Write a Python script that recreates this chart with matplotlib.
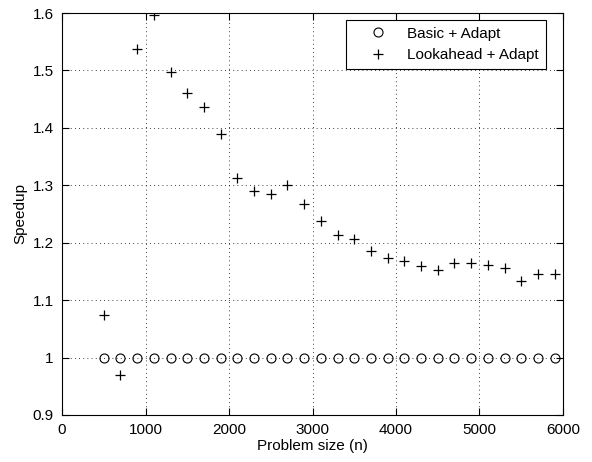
import numpy as np
import matplotlib
matplotlib.use("Agg")
import matplotlib.pyplot as plt

plt.rcParams['font.family'] = ['Liberation Sans', 'DejaVu Sans']

sizes = list(range(500, 6000, 200))
basic_adapt = [1.0] * len(sizes)
lookahead_adapt = [1.075, 0.969, 1.537, 1.597, 1.498, 1.461, 1.437, 1.389,
                   1.313, 1.290, 1.285, 1.301, 1.268, 1.238, 1.214, 1.207,
                   1.186, 1.174, 1.168, 1.159, 1.152, 1.164, 1.164, 1.162,
                   1.156, 1.133, 1.146, 1.146]

fig = plt.figure(figsize=(5.92, 4.62), dpi=100)
ax = fig.add_axes([62 / 592, 1 - 415 / 462, (563 - 62) / 592, (415 - 13) / 462])

ax.plot(sizes, basic_adapt, linestyle='none', marker='o', markersize=6.5,
        markerfacecolor='none', markeredgecolor='black', markeredgewidth=0.8,
        label='Basic + Adapt')
ax.plot(sizes, lookahead_adapt, linestyle='none', marker='+', markersize=7,
        color='black', markeredgewidth=0.9, label='Lookahead + Adapt')

ax.set_xlim(0, 6000)
ax.set_ylim(0.9, 1.6)
ax.set_xticks(np.arange(0, 6001, 1000))
ax.set_yticks(np.arange(0.9, 1.61, 0.1))
ax.set_yticklabels(['0.9', '1', '1.1', '1.2', '1.3', '1.4', '1.5', '1.6'])
ax.grid(True, linestyle=(0, (1, 4)), color='black', linewidth=0.6)
ax.tick_params(direction='in', labelsize=11, top=True, right=True, length=5)
ax.tick_params(axis='x', pad=6)
ax.tick_params(axis='y', pad=6)
for s in ax.spines.values():
    s.set_linewidth(0.8)

ax.set_xlabel('Problem size (n)', fontsize=11, labelpad=1)
ax.set_ylabel('Speedup', fontsize=11, labelpad=4)

leg = ax.legend(loc='upper right', fontsize=11, fancybox=False, framealpha=1,
                edgecolor='black', borderpad=0.45, handlelength=3.2,
                handletextpad=0.35, labelspacing=0.5, borderaxespad=0,
                bbox_to_anchor=(0.966, 0.983))
leg.get_frame().set_linewidth(0.8)

fig.savefig('out.png', dpi=100)
